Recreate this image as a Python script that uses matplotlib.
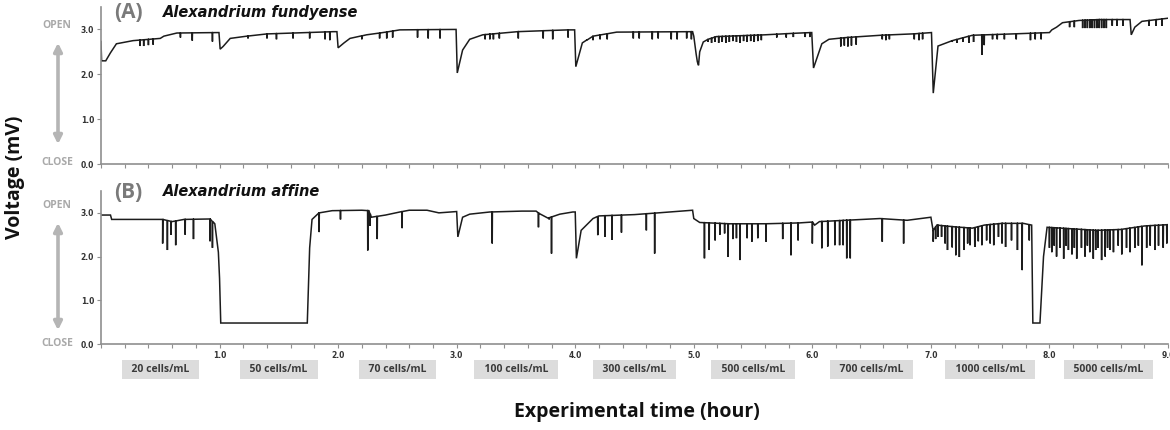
import numpy as np
import matplotlib
matplotlib.use("Agg")
import matplotlib.pyplot as plt
from matplotlib.ticker import MultipleLocator, FixedLocator, FixedFormatter
from matplotlib.transforms import blended_transform_factory

# ---------------- data ----------------
# Panel A baseline knots (hour, mV)
a_base_t = [0.00, 0.005, 0.04, 0.08, 0.13, 0.27, 0.50, 0.53, 0.64, 0.98, 0.995,
            1.005, 1.03, 1.09, 1.23, 1.40, 1.96, 1.99,
            2.00, 2.05, 2.10, 2.24, 2.38, 2.52, 2.97, 2.995,
            3.005, 3.05, 3.11, 3.22, 3.51, 3.93, 3.995,
            4.005, 4.06, 4.15, 4.35, 4.99,
            5.00, 5.02, 5.03, 5.04, 5.05, 5.08, 5.12, 5.19, 5.60, 5.89, 5.995,
            6.01, 6.08, 6.14, 6.29, 6.57, 6.85, 7.005,
            7.02, 7.06, 7.18, 7.35, 7.69, 8.00,
            8.02, 8.06, 8.11, 8.25, 8.42, 8.68,
            8.69, 8.72, 8.78, 9.00]
a_base_v = [2.73, 2.30, 2.30, 2.48, 2.68, 2.75, 2.80, 2.85, 2.92, 2.93, 2.93,
            2.56, 2.62, 2.80, 2.85, 2.90, 2.95, 2.95,
            2.59, 2.70, 2.80, 2.88, 2.93, 2.99, 3.00, 3.00,
            2.03, 2.54, 2.78, 2.88, 2.95, 2.99, 2.99,
            2.17, 2.70, 2.85, 2.94, 2.95,
            2.85, 2.45, 2.28, 2.20, 2.50, 2.72, 2.78, 2.84, 2.88, 2.92, 2.93,
            2.14, 2.68, 2.78, 2.82, 2.87, 2.90, 2.93,
            1.58, 2.63, 2.75, 2.87, 2.90, 2.93,
            2.99, 3.05, 3.15, 3.20, 3.22, 3.22,
            2.88, 3.05, 3.18, 3.25]
# Panel A spikes (hour, minimum mV)
a_spike_t = [0.33, 0.36, 0.40, 0.44, 0.67, 0.77, 0.94,
             1.24, 1.40, 1.48, 1.62, 1.76, 1.89, 1.93,
             2.20, 2.35, 2.41, 2.46, 2.67, 2.76, 2.86,
             3.24, 3.28, 3.31, 3.36, 3.52, 3.73, 3.81, 3.94,
             4.10, 4.15, 4.21, 4.27, 4.49, 4.54, 4.65, 4.70, 4.81, 4.86, 4.94, 4.98,
             5.12, 5.15, 5.18, 5.21, 5.24, 5.27, 5.30, 5.33, 5.36, 5.39, 5.42, 5.45,
             5.48, 5.51, 5.54, 5.57, 5.70, 5.78, 5.84, 5.94, 5.98,
             6.24, 6.27, 6.30, 6.33, 6.37, 6.59, 6.62, 6.65, 6.86, 6.90, 6.93,
             7.18, 7.22, 7.27, 7.32, 7.36, 7.43, 7.45, 7.52, 7.56, 7.62, 7.72, 7.84,
             7.88, 7.93,
             8.17, 8.21, 8.28, 8.30, 8.32, 8.34, 8.36, 8.38, 8.40, 8.42, 8.44, 8.46,
             8.48, 8.53, 8.57, 8.62, 8.84, 8.90, 8.95]
a_spike_v = [2.63, 2.63, 2.65, 2.66, 2.82, 2.75, 2.73,
             2.80, 2.80, 2.78, 2.80, 2.80, 2.78, 2.76,
             2.78, 2.80, 2.80, 2.82, 2.82, 2.80, 2.80,
             2.78, 2.78, 2.78, 2.80, 2.80, 2.80, 2.78, 2.82,
             2.78, 2.76, 2.78, 2.78, 2.80, 2.80, 2.78, 2.80, 2.78, 2.78, 2.80, 2.78,
             2.72, 2.70, 2.72, 2.70, 2.72, 2.70, 2.72, 2.74, 2.72, 2.70, 2.74, 2.72,
             2.74, 2.72, 2.74, 2.76, 2.82, 2.82, 2.83, 2.83, 2.83,
             2.62, 2.64, 2.62, 2.64, 2.66, 2.78, 2.76, 2.78, 2.78, 2.76, 2.78,
             2.72, 2.70, 2.72, 2.70, 2.72, 2.43, 2.65, 2.78, 2.78, 2.78, 2.78, 2.76,
             2.78, 2.78,
             3.05, 3.05, 3.03, 3.03, 3.03, 3.03, 3.03, 3.03, 3.03, 3.03, 3.03, 3.03,
             3.03, 3.08, 3.08, 3.08, 3.08, 3.08, 3.08]

# Panel B baseline knots (hour, mV)
b_base_t = [0.00, 0.08, 0.09, 0.52, 0.60, 0.70, 0.92, 0.96, 0.99, 1.00,
            1.01, 1.74, 1.76, 1.78, 1.84, 1.95, 2.20, 2.26,
            2.28, 2.40, 2.52, 2.60, 2.75, 2.85, 2.95, 3.00,
            3.01, 3.05, 3.11, 3.28, 3.55, 3.67,
            3.70, 3.77, 3.87, 3.98, 4.00,
            4.01, 4.05, 4.15, 4.20, 4.50, 4.95, 4.99,
            5.00, 5.05, 5.30, 5.60, 5.89, 6.00,
            6.02, 6.06, 6.57, 6.80, 7.00,
            7.02, 7.05, 7.20, 7.35, 7.45, 7.60, 7.78, 7.85,
            7.86, 7.92, 7.95, 7.98, 8.10, 8.40, 8.60, 8.80, 9.00]
b_base_v = [2.95, 2.95, 2.85, 2.85, 2.80, 2.85, 2.86, 2.75, 2.10, 1.50,
            0.48, 0.48, 2.20, 2.85, 3.00, 3.05, 3.06, 3.05,
            2.90, 2.95, 3.02, 3.06, 3.06, 3.00, 3.02, 3.03,
            2.45, 2.90, 2.97, 3.02, 3.04, 3.04,
            2.98, 2.88, 2.97, 3.02, 3.02,
            1.96, 2.60, 2.87, 2.93, 2.96, 3.05, 3.06,
            2.87, 2.78, 2.75, 2.75, 2.77, 2.79,
            2.72, 2.80, 2.87, 2.83, 2.90,
            2.60, 2.72, 2.68, 2.65, 2.72, 2.76, 2.76, 2.72,
            0.48, 0.48, 2.00, 2.67, 2.65, 2.60, 2.62, 2.70, 2.73]
# Panel B spikes (hour, minimum mV)
b_spike_t = [0.52, 0.56, 0.59, 0.63, 0.71, 0.78, 0.92, 0.94,
             1.84, 2.02, 2.25, 2.27, 2.33, 2.54,
             3.30, 3.69, 3.78, 3.80,
             4.19, 4.25, 4.31, 4.39, 4.60, 4.67,
             5.09, 5.13, 5.18, 5.22, 5.26, 5.29, 5.33, 5.36, 5.39, 5.45, 5.49, 5.54,
             5.61, 5.75, 5.82, 5.88, 6.00,
             6.08, 6.13, 6.19, 6.23, 6.26, 6.29, 6.32, 6.59, 6.77,
             7.02, 7.04, 7.06, 7.09, 7.12, 7.14, 7.18, 7.21, 7.24, 7.28, 7.31, 7.33,
             7.37, 7.40, 7.43, 7.47, 7.50, 7.53, 7.57, 7.60, 7.63, 7.68, 7.73, 7.77,
             7.83,
             8.00, 8.02, 8.04, 8.06, 8.09, 8.12, 8.14, 8.16, 8.19, 8.21, 8.23, 8.27,
             8.30, 8.32, 8.34, 8.37, 8.39, 8.41, 8.44, 8.47, 8.49, 8.51, 8.54, 8.58,
             8.61, 8.65, 8.68, 8.72, 8.75, 8.78, 8.82, 8.85, 8.89, 8.92, 8.96, 8.99]
b_spike_v = [2.30, 2.15, 2.50, 2.26, 2.50, 2.40, 2.35, 2.20,
             2.56, 2.85, 2.14, 2.70, 2.40, 2.65,
             2.30, 2.67, 2.85, 2.07,
             2.49, 2.45, 2.38, 2.55, 2.60, 2.07,
             1.96, 2.15, 2.37, 2.50, 2.53, 1.99, 2.40, 2.42, 1.92, 2.42, 2.34, 2.42,
             2.34, 2.40, 2.03, 2.37, 2.30,
             2.19, 2.23, 2.26, 2.26, 2.26, 1.96, 1.96, 2.34, 2.30,
             2.34, 2.40, 2.45, 2.45, 2.30, 2.15, 2.21, 2.03, 1.99, 2.15, 2.30, 2.26,
             2.22, 2.35, 2.26, 2.37, 2.30, 2.26, 2.45, 2.30, 2.22, 2.37, 2.15, 1.69,
             2.37,
             2.20, 2.10, 2.25, 2.00, 2.20, 1.95, 2.25, 2.15, 2.05, 2.20, 1.95, 2.20,
             2.00, 2.25, 2.10, 1.95, 2.15, 2.20, 1.92, 2.00, 2.20, 2.15, 2.10, 2.25,
             2.05, 2.20, 2.10, 2.20, 2.25, 1.80, 2.20, 2.25, 2.15, 2.25, 2.20, 2.30]

concentrations = ["20 cells/mL", "50 cells/mL", "70 cells/mL", "100 cells/mL",
                  "300 cells/mL", "500 cells/mL", "700 cells/mL", "1000 cells/mL",
                  "5000 cells/mL"]
y_ticks = [0.0, 1.0, 2.0, 3.0]
y_tick_labels = ["0.0", "1.0", "2.0", "3.0"]
x_major = [0, 1, 2, 3, 4, 5, 6, 7, 8, 9]
x_major_labels = ["", "1.0", "2.0", "3.0", "4.0", "5.0", "6.0", "7.0", "8.0", "9.0"]
panel_labels = ["(A)", "(B)"]
species = ["Alexandrium fundyense", "Alexandrium affine"]


def build_trace(bt, bv, st, sv):
    bt = np.asarray(bt, float); bv = np.asarray(bv, float)
    st = np.asarray(st, float); sv = np.asarray(sv, float)
    anchor = np.interp(st, bt, bv)
    eps = 0.0015
    t = np.concatenate([bt, st - eps, st, st + eps])
    v = np.concatenate([bv, anchor, sv, anchor])
    order = np.argsort(t, kind="stable")
    return t[order], v[order]


W, H = 1170, 430
fig = plt.figure(figsize=(W / 100, H / 100), dpi=100)

def fx(px):
    return px / W

def fy(py):
    return 1 - py / H

axA = fig.add_axes([fx(101), fy(164), fx(1168) - fx(101), (164 - 7) / H])
axB = fig.add_axes([fx(101), fy(344), fx(1168) - fx(101), (344 - 191) / H])

spine_c = "#8f8f8f"
for ax, (bt, bv, st, sv) in zip(
        [axA, axB],
        [(a_base_t, a_base_v, a_spike_t, a_spike_v),
         (b_base_t, b_base_v, b_spike_t, b_spike_v)]):
    t, v = build_trace(bt, bv, st, sv)
    ax.plot(t, v, color="#1c1c1c", lw=1.1, solid_joinstyle="miter")
    ax.set_xlim(0, 9)
    ax.set_ylim(0, 3.5)
    for s in ["top", "right"]:
        ax.spines[s].set_visible(False)
    for s in ["left", "bottom"]:
        ax.spines[s].set_color(spine_c)
        ax.spines[s].set_linewidth(1.2)
    ax.yaxis.set_major_locator(FixedLocator(y_ticks))
    ax.yaxis.set_major_formatter(FixedFormatter(y_tick_labels))
    ax.xaxis.set_major_locator(FixedLocator(x_major))
    ax.xaxis.set_minor_locator(MultipleLocator(0.2))
    ax.tick_params(axis="both", which="both", direction="out", length=3,
                   width=0.8, color=spine_c, labelsize=5.5, labelcolor="#333333", pad=2)
    for lab in ax.get_yticklabels():
        lab.set_fontweight("bold")
    ax.patch.set_alpha(0)

axA.xaxis.set_major_formatter(FixedFormatter([""] * len(x_major)))
axB.xaxis.set_major_formatter(FixedFormatter(x_major_labels))
for lab in axB.get_xticklabels():
    lab.set_fontweight("bold")

# Panel titles
for py, pl, sp in [(12, panel_labels[0], species[0]), (192, panel_labels[1], species[1])]:
    fig.text(fx(114), fy(py), pl, ha="left", va="center", fontsize=15,
             fontweight="bold", color="#7a7a7a", family="Open Sans")
    fig.text(fx(163), fy(py), sp, ha="left", va="center", fontsize=10.5,
             fontweight="bold", style="italic", color="#111111")

# OPEN / CLOSE and arrows
gray = "#a9a9a9"
for top, bot, a0, a1 in [(25, 163, 40, 147), (206, 343, 220, 333)]:
    fig.text(fx(57), fy(top), "OPEN", ha="center", va="center", fontsize=7.5,
             fontweight="bold", color=gray, family="Open Sans")
    fig.text(fx(57), fy(bot), "CLOSE", ha="center", va="center", fontsize=7.5,
             fontweight="bold", color=gray, family="Open Sans")
    fig.patches.append(matplotlib.patches.FancyArrowPatch(
        (fx(58), fy(a0)), (fx(58), fy(a1)), transform=fig.transFigure,
        arrowstyle="<|-|>", mutation_scale=12, color="#b5b5b5", lw=2.6))

# Axis titles
fig.text(fx(15), fy(177), "Voltage (mV)", rotation=90, ha="center", va="center",
         fontsize=14, fontweight="bold", color="#111111", family="Open Sans")
fig.text(fx(637), fy(412), "Experimental time (hour)", ha="center", va="center",
         fontsize=14, fontweight="bold", color="#111111", family="Open Sans")

# Concentration boxes
trans = blended_transform_factory(axB.transData, fig.transFigure)
for i, c in enumerate(concentrations):
    axB.text(i + 0.5, fy(369.5), "  " + c + "  ", transform=trans, ha="center",
             va="center", fontsize=7.5, fontweight="bold", color="#3a3a3a",
             family="Open Sans", clip_on=False,
             bbox=dict(boxstyle="square,pad=0.42", fc="#dcdcdc", ec="none"))

fig.savefig("out.png", dpi=100)
